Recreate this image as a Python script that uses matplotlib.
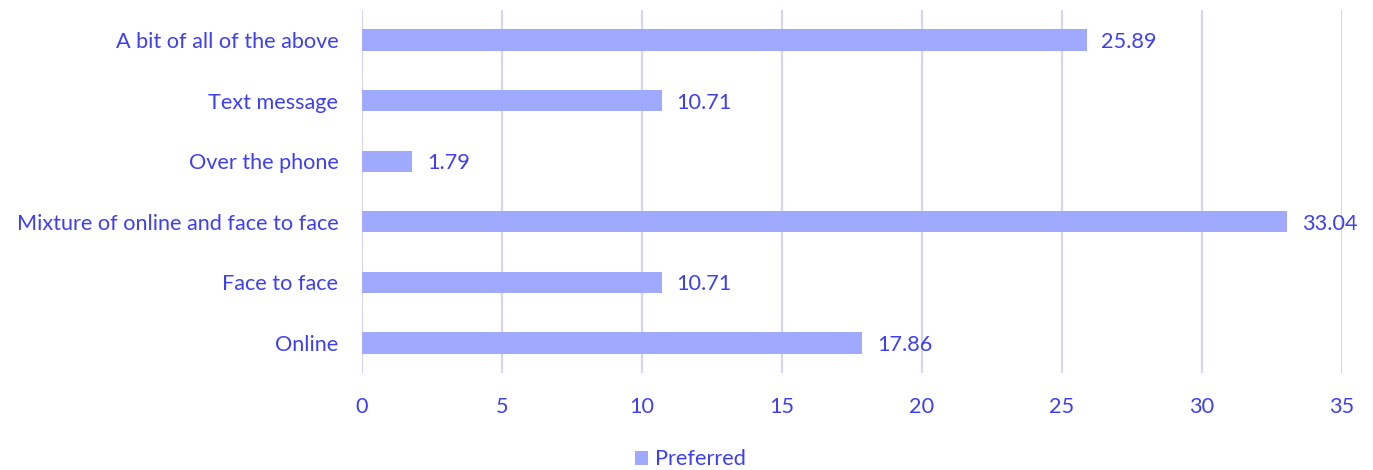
import matplotlib.pyplot as plt

# survey answers, bottom to top as drawn
options = ['Online', 'Face to face', 'Mixture of online and face to face',
           'Over the phone', 'Text message', 'A bit of all of the above']
preferred = [17.86, 10.71, 33.04, 1.79, 10.71, 25.89]
xticks = [0, 5, 10, 15, 20, 25, 30, 35]

txt_col = '#3f3ff2'
bar_col = '#9faaff'
grid_col = '#d4d4f7'
fs = 15.6

plt.rcParams['font.family'] = ['Lato', 'DejaVu Sans']

fig = plt.figure(figsize=(13.73, 4.70), dpi=100)
ax = fig.add_axes([0.2637, 0.2057, 0.7137, 0.7737])

ypos = range(len(options))
ax.barh(ypos, preferred, height=0.35, color=bar_col, label='Preferred', zorder=2)
for y, v in zip(ypos, preferred):
    ax.annotate(f'{v:.2f}', (v, y), xytext=(10.5, -1.5), textcoords='offset points',
                va='center', ha='left', fontsize=fs, color=txt_col)

ax.set_xlim(0, 35)
ax.set_ylim(-0.5, len(options) - 0.5)
ax.set_xticks(xticks)
ax.set_yticks(list(ypos))
ax.set_yticklabels(options)
ax.tick_params(axis='both', length=0, labelsize=fs, labelcolor=txt_col)
ax.tick_params(axis='x', pad=17)
ax.tick_params(axis='y', pad=17)
ax.grid(axis='x', color=grid_col, linewidth=1.5, zorder=0)
for s in ax.spines.values():
    s.set_visible(False)

fig.legend(loc='lower center', bbox_to_anchor=(0.503, -0.04), frameon=False,
           fontsize=fs, labelcolor=txt_col, handlelength=0.6, handleheight=0.6,
           handletextpad=0.3)

fig.savefig('out.png', dpi=100)
